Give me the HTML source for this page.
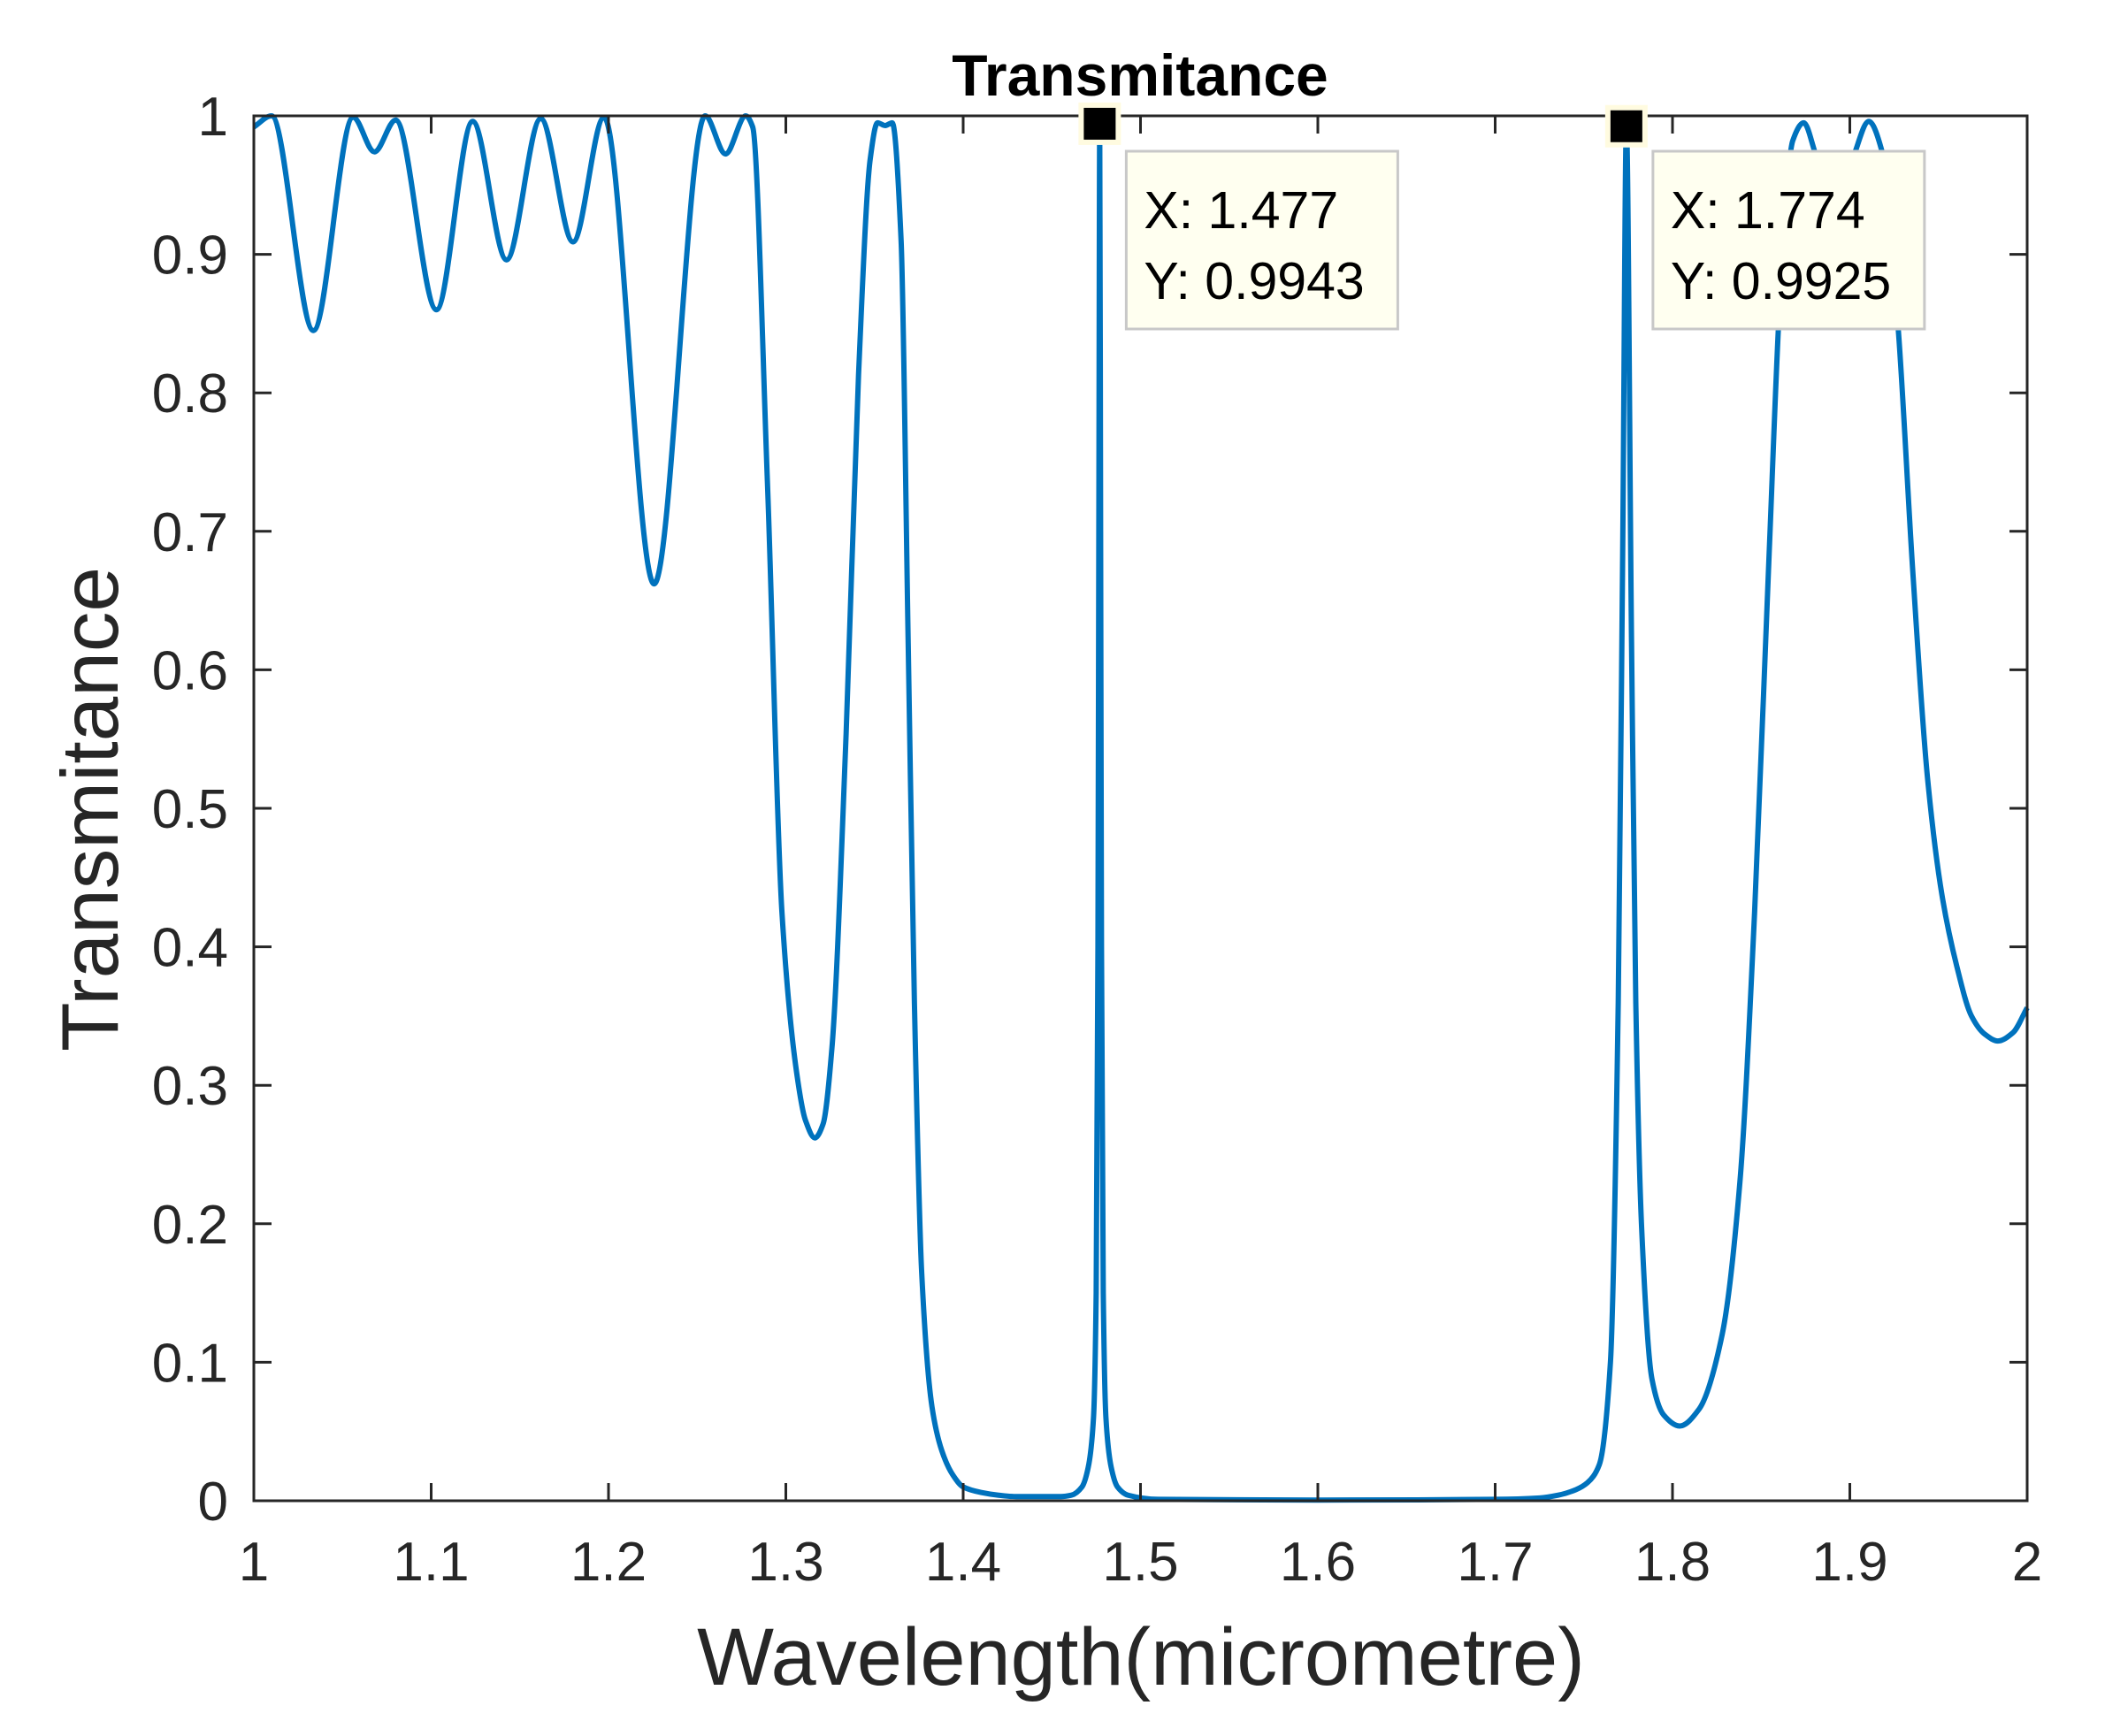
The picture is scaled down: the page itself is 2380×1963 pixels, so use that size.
<!DOCTYPE html>
<html><head><meta charset="utf-8"><style>
html,body{margin:0;padding:0;background:#fff;}
svg{display:block;}
text{font-family:"Liberation Sans",Arial,sans-serif;}
</style></head><body>
<svg id="chart" width="2380" height="1963" viewBox="0 0 2380 1963" xmlns="http://www.w3.org/2000/svg">
<rect x="0" y="0" width="2380" height="1963" fill="#fff"/>
<g id="plotArea"></g>
<g id="axes"></g>
<g id="tips"></g>
<text x="1289" y="108" text-anchor="middle" font-size="66" font-weight="bold" fill="#000">Transmitance</text>
<text x="1290" y="1905" text-anchor="middle" font-size="92" fill="#262626">Wavelength(micrometre)</text>
<text transform="translate(133,915) rotate(-90)" text-anchor="middle" font-size="91" fill="#262626">Transmitance</text>
</svg>
<script>
const wavelength = [1.0,1.010,1.0336,1.056,1.068,1.080,1.103,1.1234,1.1425,1.1618,1.180,1.1975,1.2257,1.2545,1.266,1.2774,1.2813,1.2896,1.2978,1.306,1.311,1.3164,1.321,1.326,1.334,1.341,1.3476,1.3517,1.356,1.360,1.365,1.369,1.3725,1.3766,1.3824,1.388,1.394,1.400,1.41,1.42,1.430,1.455,1.461,1.467,1.4705,1.4735,1.475,1.476,1.4765,1.477,1.4775,1.478,1.479,1.4805,1.4835,1.487,1.493,1.51,1.60,1.70,1.725,1.7355,1.7455,1.752,1.7587,1.765,1.7694,1.7719,1.774,1.7769,1.7793,1.7826,1.7884,1.795,1.8041,1.8149,1.828,1.838,1.8463,1.8545,1.861,1.8678,1.874,1.880,1.892,1.9033,1.9107,1.918,1.9273,1.9355,1.9438,1.952,1.9603,1.9686,1.976,1.9835,1.992,2.0];
const transmittance = [0.992,1.0,0.845,0.999,0.974,0.997,0.860,0.996,0.896,0.998,0.909,0.999,0.662,1.0,0.9725,1.0,0.992,0.736,0.425,0.31,0.275,0.262,0.272,0.327,0.554,0.813,0.969,0.995,0.993,0.995,0.91,0.619,0.36,0.165,0.068,0.036,0.019,0.01,0.006,0.004,0.003,0.003,0.004,0.01,0.024,0.06,0.15,0.4,0.7,0.9943,0.7,0.4,0.15,0.06,0.024,0.01,0.004,0.001,0.0005,0.001,0.002,0.004,0.008,0.013,0.026,0.10,0.36,0.684,0.9925,0.62,0.36,0.197,0.088,0.062,0.054,0.066,0.12,0.23,0.425,0.684,0.878,0.982,0.995,0.975,0.91,0.975,0.996,0.975,0.846,0.671,0.522,0.437,0.386,0.35,0.337,0.332,0.338,0.356];
const xTicks = [1,1.1,1.2,1.3,1.4,1.5,1.6,1.7,1.8,1.9,2];
const xTickLabels = ["1","1.1","1.2","1.3","1.4","1.5","1.6","1.7","1.8","1.9","2"];
const yTicks = [0,0.1,0.2,0.3,0.4,0.5,0.6,0.7,0.8,0.9,1];
const yTickLabels = ["0","0.1","0.2","0.3","0.4","0.5","0.6","0.7","0.8","0.9","1"];
const tipX = [1.477,1.774];
const tipY = [0.9943,0.9925];
const tipXLabels = ["1.477","1.774"];
const tipYLabels = ["0.9943","0.9925"];

const L=287,R=2292,T=131,B=1697;
function sx(v){return L+(v-1)*(R-L);}
function sy(v){return B-v*(B-T);}
const NS="http://www.w3.org/2000/svg";
function mk(tag,attrs,parent){const e=document.createElementNS(NS,tag);for(const k in attrs)e.setAttribute(k,attrs[k]);parent.appendChild(e);return e;}

function monoPath(xs,ys){
  const n=xs.length,d=[],m=new Array(n);
  for(let i=0;i<n-1;i++)d.push((ys[i+1]-ys[i])/(xs[i+1]-xs[i]));
  m[0]=d[0];m[n-1]=d[n-2];
  for(let i=1;i<n-1;i++){ if(d[i-1]*d[i]<=0)m[i]=0; else {const w1=2*(xs[i+1]-xs[i])+(xs[i]-xs[i-1]),w2=(xs[i+1]-xs[i])+2*(xs[i]-xs[i-1]);m[i]=(w1+w2)/(w1/d[i-1]+w2/d[i]);} }
  let p="M"+xs[0].toFixed(2)+","+ys[0].toFixed(2);
  for(let i=0;i<n-1;i++){const h=xs[i+1]-xs[i];
    p+=" C"+(xs[i]+h/3).toFixed(2)+","+(ys[i]+m[i]*h/3).toFixed(2)+" "+(xs[i+1]-h/3).toFixed(2)+","+(ys[i+1]-m[i+1]*h/3).toFixed(2)+" "+xs[i+1].toFixed(2)+","+ys[i+1].toFixed(2);}
  return p;
}
const plot=document.getElementById('plotArea');
const px=wavelength.map(sx), py=transmittance.map(sy);
const line=mk('path',{d:monoPath(px,py),fill:'none',stroke:'#0072BD','stroke-width':6,'stroke-linejoin':'round'},plot);



const ax=document.getElementById('axes');
const box=mk('rect',{x:L,y:T,width:R-L,height:B-T,fill:'none',stroke:'#262626','stroke-width':3},ax);


xTicks.forEach((v,i)=>{
  const x=sx(v);
  mk('line',{x1:x,y1:B,x2:x,y2:B-20,stroke:'#262626','stroke-width':3},ax);
  mk('line',{x1:x,y1:T,x2:x,y2:T+20,stroke:'#262626','stroke-width':3},ax);
  const t=mk('text',{x:x,y:1787,'text-anchor':'middle','font-size':62,fill:'#262626'},ax);
  t.textContent=xTickLabels[i];
  
  
});
yTicks.forEach((v,i)=>{
  const y=sy(v);
  mk('line',{x1:L,y1:y,x2:L+20,y2:y,stroke:'#262626','stroke-width':3},ax);
  mk('line',{x1:R,y1:y,x2:R-20,y2:y,stroke:'#262626','stroke-width':3},ax);
  const t=mk('text',{x:258,y:y+22,'text-anchor':'end','font-size':62,fill:'#262626'},ax);
  t.textContent=yTickLabels[i];
  
  
});

const tips=document.getElementById('tips');
tipX.forEach((v,i)=>{
  const cx=sx(v),cy=sy(tipY[i]);
  const mkr=mk('rect',{x:cx-21,y:cy-21,width:42,height:42,fill:'#000',stroke:'#fffbe0','stroke-width':6},tips);
  
  
  const bx=cx+30,by=171;
  const r=mk('rect',{x:bx,y:by,width:307,height:201,fill:'#fffff0',stroke:'#c8c8c8','stroke-width':3},tips);
  
  
  const t1=mk('text',{x:bx+20,y:by+87,'font-size':59,fill:'#000'},tips);
  t1.textContent="X: "+tipXLabels[i];
  
  
  const t2=mk('text',{x:bx+20,y:by+167,'font-size':59,fill:'#000'},tips);
  t2.textContent="Y: "+tipYLabels[i];
  
  
});
</script>
</body></html>
